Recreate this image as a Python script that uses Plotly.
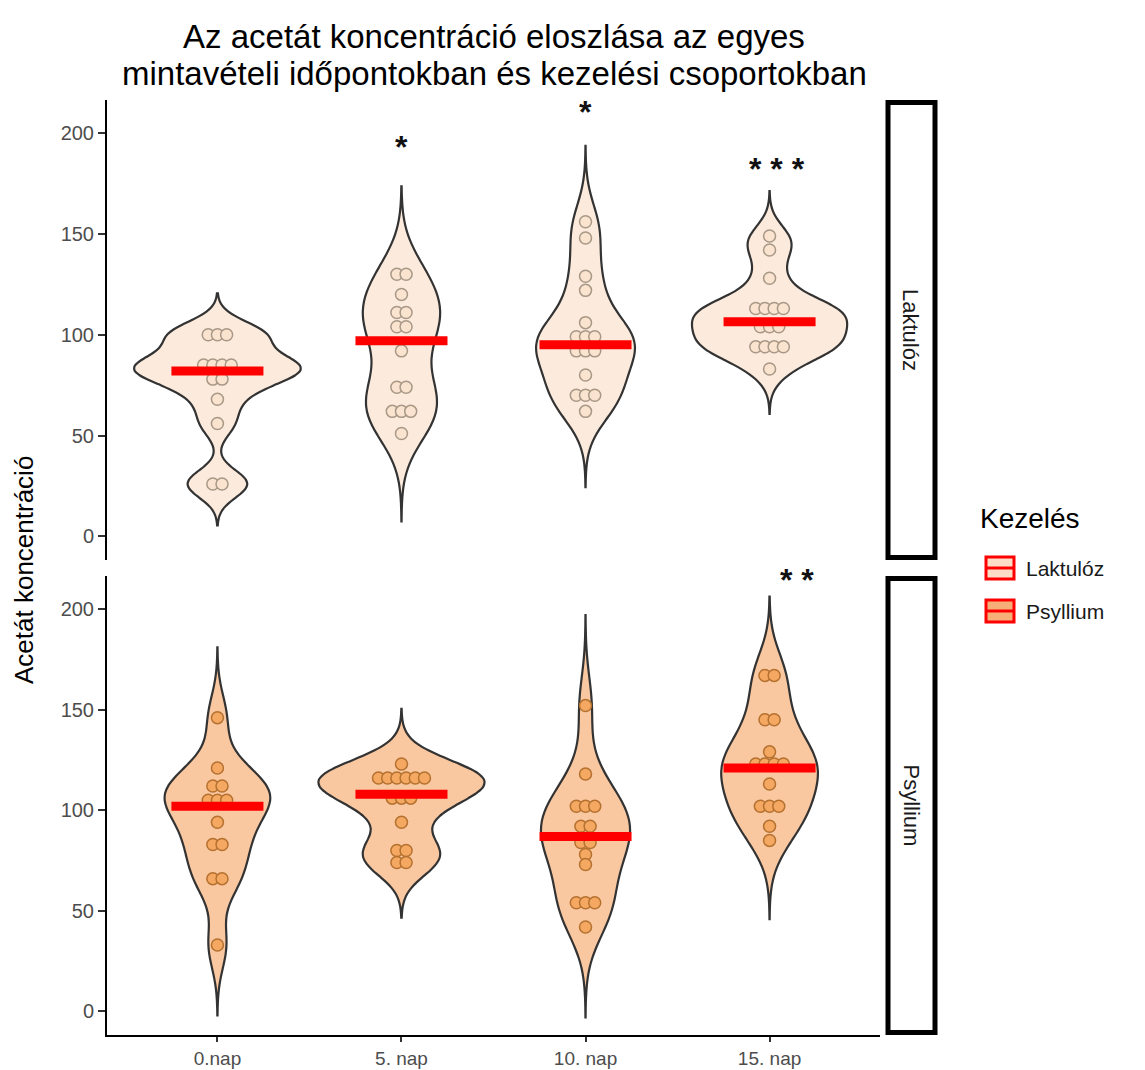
import numpy as np
import plotly.graph_objects as go

# ---------------- data ----------------
categories = ["0.nap", "5. nap", "10. nap", "15. nap"]
groups = ["Laktulóz", "Psyllium"]

lak_0nap = [100, 100, 100, 85, 85, 85, 85, 78, 78, 68, 56, 26, 26]
lak_5nap = [130, 130, 120, 111, 111, 104, 104, 92, 74, 74, 62, 62, 62, 51]
lak_10nap = [156, 148, 129, 122, 106, 99, 99, 99, 92, 92, 92, 80, 70, 70, 70, 62]
lak_15nap = [149, 142, 128, 113, 113, 113, 113, 104, 104, 104, 94, 94, 94, 94, 83]

psy_0nap = [146, 121, 112, 112, 105, 105, 105, 94, 83, 83, 66, 66, 33]
psy_5nap = [123, 116, 116, 116, 116, 116, 116, 106, 106, 106, 94, 80, 80, 74, 74]
psy_10nap = [152, 118, 102, 102, 102, 92, 92, 84, 84, 78, 73, 54, 54, 54, 42]
psy_15nap = [167, 167, 145, 145, 129, 123, 123, 123, 123, 113, 102, 102, 102, 92, 85]

lak_medians = [82, 97, 95, 106.5]
psy_medians = [102, 108, 87, 121]

lak_signif = ["", "*", "*", "* * *"]
psy_signif = ["", "", "", "* *"]

y_ticks = [0, 50, 100, 150, 200]

# ---------------- styling / positioning ----------------
FONT = "Liberation Sans, Arial, sans-serif"
VIOLIN_FILL = {"Laktulóz": "#FCEBDD", "Psyllium": "#F9C7A0"}
DOT_FILL = {"Laktulóz": "#FAE3CF", "Psyllium": "#F4A862"}
DOT_LINE = {"Laktulóz": "#A89886", "Psyllium": "#B5712F"}
KEY_FILL = {"Laktulóz": "#FDDDC6", "Psyllium": "#F7AF78"}
OUTLINE = "#333333"
MEDIAN_COLOR = "#FF0000"

Y_RANGE = [-11.7, 216.4]
X_RANGE = [0.4, 4.6]
DOT_STEP = 0.05
# placement of the significance stars
STAR_Y = {"Laktulóz": [None, 193, 210.5, 182], "Psyllium": [None, None, None, 214.5]}
STAR_DX = {"Laktulóz": [0, 0, 0, 0.04], "Psyllium": [0, 0, 0, 0.15]}


def nrd0(v):
    v = np.asarray(v, float)
    sd = v.std(ddof=1)
    q75, q25 = np.percentile(v, [75, 25])
    lo = min(sd, (q75 - q25) / 1.34) if q75 > q25 else sd
    return 0.9 * lo * len(v) ** -0.2


def max_density(v, bw):
    v = np.asarray(v, float)
    grid = np.linspace(v.min() - 3 * bw, v.max() + 3 * bw, 800)
    d = np.exp(-0.5 * ((grid[:, None] - v[None, :]) / bw) ** 2).sum(1)
    return (d / (len(v) * bw * np.sqrt(2 * np.pi))).max()


def stack_offsets(vals):
    counts = {}
    for v in vals:
        counts[v] = counts.get(v, 0) + 1
    seen, xs = {}, []
    for v in vals:
        k = counts[v]
        i = seen.get(v, 0)
        seen[v] = i + 1
        xs.append((i - (k - 1) / 2) * DOT_STEP)
    return xs


panels = [
    ("Laktulóz", [lak_0nap, lak_5nap, lak_10nap, lak_15nap], lak_medians, lak_signif, "x2", "y"),
    ("Psyllium", [psy_0nap, psy_5nap, psy_10nap, psy_15nap], psy_medians, psy_signif, "x", "y2"),
]

fig = go.Figure()
annotations = []

for grp, series, medians, signif, xa, ya in panels:
    bws = [nrd0(s) for s in series]
    maxd = [max_density(s, b) for s, b in zip(series, bws)]
    top = max(maxd)
    for i, (vals, bw, md) in enumerate(zip(series, bws, maxd)):
        pos = i + 1
        fig.add_trace(go.Violin(
            x=[pos] * len(vals), y=vals, bandwidth=bw,
            spanmode="manual", span=[min(vals) - 3 * bw, max(vals) + 3 * bw],
            width=0.9 * md / top, scalemode="width", side="both",
            fillcolor=VIOLIN_FILL[grp], line=dict(color=OUTLINE, width=2.2),
            points=False, box_visible=False, meanline_visible=False,
            hoverinfo="skip", showlegend=False, xaxis=xa, yaxis=ya,
        ))
    dx, dy = [], []
    for i, vals in enumerate(series):
        offs = stack_offsets(vals)
        dx += [i + 1 + o for o in offs]
        dy += vals
    fig.add_trace(go.Scatter(
        x=dx, y=dy, mode="markers",
        marker=dict(size=12, color=DOT_FILL[grp], line=dict(color=DOT_LINE[grp], width=1.5)),
        hoverinfo="skip", showlegend=False, xaxis=xa, yaxis=ya,
    ))
    for i, m in enumerate(medians):
        fig.add_trace(go.Scatter(
            x=[i + 1 - 0.25, i + 1 + 0.25], y=[m, m], mode="lines",
            line=dict(color=MEDIAN_COLOR, width=9),
            hoverinfo="skip", showlegend=False, xaxis=xa, yaxis=ya,
        ))
    for i, s in enumerate(signif):
        if s:
            annotations.append(dict(
                x=i + 1 + STAR_DX[grp][i], y=STAR_Y[grp][i], xref=xa, yref=ya,
                text="<b>" + s + "</b>", showarrow=False, xanchor="center", yanchor="middle",
                font=dict(family=FONT, size=32, color="#111111"),
            ))

# ---------------- layout ----------------
PL, PR, PT, PB = 107, 880, 100, 1035
W, H = 1145, 1070


def px_x(px):
    return (px - PL) / (PR - PL)


def px_y(py):
    return (PB - py) / (PB - PT)


top_dom = [px_y(560), 1]
bot_dom = [0, px_y(576)]

axis_common = dict(
    showline=True, linecolor="black", linewidth=2, ticks="outside", ticklen=7,
    tickwidth=1.5, tickcolor="#333333", showgrid=False, zeroline=False, automargin=False,
    tickfont=dict(family=FONT, size=20, color="#4D4D4D"),
)
x_axis_style = {**axis_common, "ticklen": 5,
                "tickfont": dict(family=FONT, size=19, color="#4D4D4D")}

shapes = []
for (y0, y1), label in [((100, 560), "Laktulóz"), ((576, 1035), "Psyllium")]:
    shapes.append(dict(type="rect", xref="paper", yref="paper",
                       x0=px_x(888), x1=px_x(935), y0=px_y(y1 - 2.5), y1=px_y(y0 + 2.5),
                       line=dict(color="black", width=5), fillcolor="white"))
    annotations.append(dict(x=px_x(911), y=px_y((y0 + y1) / 2), xref="paper", yref="paper",
                            text=label, textangle=90, showarrow=False,
                            xanchor="center", yanchor="middle",
                            font=dict(family=FONT, size=22, color="#1A1A1A")))

annotations.append(dict(x=px_x(978), y=px_y(518), xref="paper", yref="paper", text="Kezelés",
                        xanchor="left", yanchor="middle", showarrow=False,
                        font=dict(family=FONT, size=28, color="black")))
for grp, ky in zip(groups, [568, 611]):
    shapes.append(dict(type="rect", xref="paper", yref="paper",
                       x0=px_x(986), x1=px_x(1014), y0=px_y(ky + 11), y1=px_y(ky - 11),
                       line=dict(color=MEDIAN_COLOR, width=3), fillcolor=KEY_FILL[grp]))
    shapes.append(dict(type="line", xref="paper", yref="paper",
                       x0=px_x(986), x1=px_x(1014), y0=px_y(ky), y1=px_y(ky),
                       line=dict(color=MEDIAN_COLOR, width=3)))
    annotations.append(dict(x=px_x(1024), y=px_y(ky), xref="paper", yref="paper", text=grp,
                            xanchor="left", yanchor="middle", showarrow=False,
                            font=dict(family=FONT, size=21, color="#1A1A1A")))

annotations.append(dict(x=px_x(24), y=px_y(570), xref="paper", yref="paper",
                        text="Acetát koncentráció", textangle=-90, showarrow=False,
                        xanchor="center", yanchor="middle",
                        font=dict(family=FONT, size=26, color="black")))

for line, py in [("Az acetát koncentráció eloszlása az egyes", 36),
                 ("mintavételi időpontokban és kezelési csoportokban", 73)]:
    annotations.append(dict(x=px_x(494), y=px_y(py), xref="paper", yref="paper", text=line,
                            xanchor="center", yanchor="middle", showarrow=False,
                            font=dict(family=FONT, size=33, color="black")))

fig.update_layout(
    width=W, height=H,
    margin=dict(l=PL, r=W - PR, t=PT, b=H - PB),
    paper_bgcolor="white", plot_bgcolor="white",
    violinmode="overlay",
    xaxis=dict(domain=[0, 1], anchor="y2", range=X_RANGE, tickvals=[1, 2, 3, 4], ticktext=categories,
               **x_axis_style),
    xaxis2=dict(domain=[0, 1], anchor="y", range=X_RANGE, matches="x", visible=False),
    yaxis=dict(domain=top_dom, anchor="x2", range=Y_RANGE, tickvals=y_ticks, **axis_common),
    yaxis2=dict(domain=bot_dom, anchor="x", range=Y_RANGE, tickvals=y_ticks, **axis_common),
    shapes=shapes, annotations=annotations, showlegend=False,
)

fig.write_html("out.html")
